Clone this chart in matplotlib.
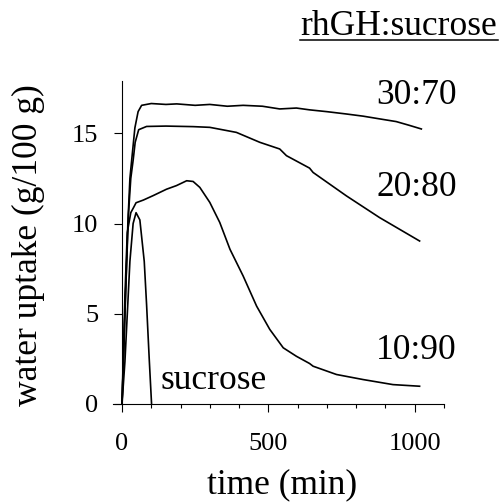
# water uptake vs time for rhGH:sucrose lyophilisates
import matplotlib
matplotlib.use("Agg")
import matplotlib.pyplot as plt
from matplotlib.lines import Line2D
from matplotlib.ticker import FixedLocator

plt.rcParams["font.family"] = ["Liberation Serif", "DejaVu Serif"]

# data (time in min, uptake in g/100 g)
t_30 = [0, 10, 20, 27, 33, 44, 55, 67, 100, 150, 187, 250, 300, 360, 414, 480,
        539, 596, 641, 700, 767, 824, 880, 937, 980, 1023]
y_30 = [0, 5.0, 10.0, 12.5, 13.5, 15.3, 16.2, 16.55, 16.65, 16.6, 16.63, 16.55,
        16.6, 16.5, 16.55, 16.5, 16.35, 16.4, 16.3, 16.2, 16.07, 15.95, 15.8,
        15.65, 15.45, 15.24]

t_20 = [0, 12, 22, 30, 38, 45, 57, 84, 150, 243, 300, 391, 471, 539, 562, 641,
        653, 767, 880, 1017]
y_20 = [0, 6.0, 10.5, 12.5, 13.5, 14.5, 15.2, 15.38, 15.4, 15.37, 15.33, 15.05,
        14.5, 14.13, 13.76, 13.07, 12.83, 11.53, 10.33, 9.03]

t_10 = [0, 10, 18, 30, 40, 48, 73, 107, 152, 186, 221, 243, 266, 300, 334, 369,
        414, 460, 505, 551, 596, 641, 653, 733, 824, 926, 1017]
y_10 = [0, 6.0, 9.5, 10.6, 10.9, 11.15, 11.3, 11.55, 11.9, 12.1, 12.37, 12.33,
        12.0, 11.17, 10.06, 8.57, 7.09, 5.42, 4.13, 3.11, 2.64, 2.24, 2.09, 1.63,
        1.35, 1.07, 0.98]

t_suc = [0, 10, 27, 38, 48, 61, 76, 84, 93, 101]
y_suc = [0, 2.35, 7.9, 10.0, 10.6, 10.2, 7.9, 5.5, 2.5, 0]

series_labels = ["30:70", "20:80", "10:90"]
label_y = [16.6, 11.5, 2.5]

fig = plt.figure(figsize=(5.01, 5.03), dpi=100)
ax = fig.add_axes([0.226, 0.197, 0.660, 0.642])

for t, y in [(t_30, y_30), (t_20, y_20), (t_10, y_10), (t_suc, y_suc)]:
    ax.plot(t, y, color="black", linewidth=1.2)

ax.set_xlim(-30, 1100)
ax.set_ylim(0, 17.9)

# axes styling
ax.spines["top"].set_visible(False)
ax.spines["right"].set_visible(False)
ax.spines["left"].set_position(("data", 0))
for s in ["left", "bottom"]:
    ax.spines[s].set_linewidth(0.8)

ax.set_xticks([0, 500, 1000])
ax.xaxis.set_minor_locator(FixedLocator([100, 200, 300, 400, 600, 700, 800, 900, 1100]))
ax.set_yticks([0, 5, 10, 15])
ax.tick_params(axis="both", which="major", direction="out", length=6, width=0.8,
               labelsize=19)
ax.tick_params(axis="x", which="minor", direction="out", length=3, width=0.8)
ax.tick_params(axis="x", which="major", pad=15)
ax.tick_params(axis="y", which="major", pad=11)

ax.set_xlabel("time (min)", fontsize=25.5)
ax.set_ylabel("water uptake (g/100 g)", fontsize=25.5)
ax.xaxis.set_label_coords(0.51, -0.20)
ax.yaxis.set_label_coords(-0.206, 0.492)

# series labels
for lab, ly in zip(series_labels, label_y):
    ax.text(1007, ly, lab, fontsize=25.5, ha="center", va="baseline", clip_on=False)
ax.text(130, 0.85, "sucrose", fontsize=25.5, ha="left", va="baseline")

# underlined heading
fig.text(0.599, 0.930, "rhGH:sucrose", fontsize=25.5, ha="left", va="baseline")
fig.add_artist(Line2D([0.599, 0.994], [0.920, 0.920], color="black", linewidth=1.1,
                      transform=fig.transFigure))

plt.savefig("out.png", dpi=100)
